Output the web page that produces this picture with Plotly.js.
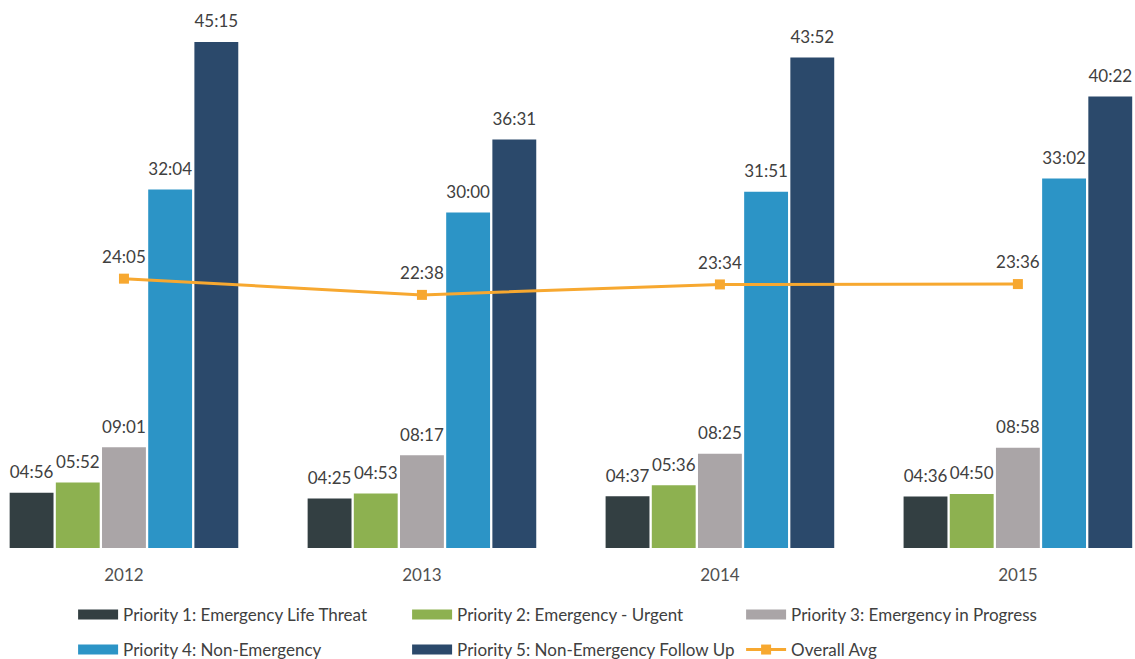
<!DOCTYPE html>
<html>
<head>
<meta charset="utf-8">
<script src="https://cdn.plot.ly/plotly-3.0.1.min.js"></script>
<style>html,body{margin:0;padding:0;background:#fff;}#chart{width:1135px;height:659px;}</style>
</head>
<body>
<div id="chart"></div>
<script>
const years = ['2012', '2013', '2014', '2015'];
const p1 = ['04:56', '04:25', '04:37', '04:36'];
const p2 = ['05:52', '04:53', '05:36', '04:50'];
const p3 = ['09:01', '08:17', '08:25', '08:58'];
const p4 = ['32:04', '30:00', '31:51', '33:02'];
const p5 = ['45:15', '36:31', '43:52', '40:22'];
const avg = ['24:05', '22:38', '23:34', '23:36'];
const seriesNames = [
  'Priority 1: Emergency Life Threat',
  'Priority 2: Emergency - Urgent',
  'Priority 3: Emergency in Progress',
  'Priority 4: Non-Emergency',
  'Priority 5: Non-Emergency Follow Up',
  'Overall Avg'
];

function toMin(s) { const [m, sec] = s.split(':').map(Number); return m + sec / 60; }

const colors = ['#333f42', '#8db150', '#aaa5a7', '#2c94c6', '#2b496b'];
const avgColor = '#f7a830';
const FONT = 'Lato, "Open Sans", sans-serif';
const TXT = '#404040';

const barSeries = [p1, p2, p3, p4, p5];
const traces = [];
// bars
barSeries.forEach((s, i) => {
  traces.push({
    type: 'bar',
    name: seriesNames[i],
    x: years,
    y: s.map(toMin),
    marker: {color: colors[i]},
    offsetgroup: 'g' + i,
    alignmentgroup: 'bars',
    showlegend: false,
    hoverinfo: 'skip'
  });
});
// value labels above bars (aligned with bar groups)
barSeries.forEach((s, i) => {
  traces.push({
    type: 'scatter',
    mode: 'text+markers',
    x: years,
    y: s.map(toMin),
    text: s,
    textposition: 'top center',
    textfont: {family: FONT, size: 17, color: TXT},
    marker: {size: 15, opacity: 0, color: '#fff'},
    offsetgroup: 'g' + i,
    alignmentgroup: 'bars',
    showlegend: false,
    cliponaxis: false,
    hoverinfo: 'skip'
  });
});
// average line
traces.push({
  type: 'scatter',
  mode: 'lines+markers',
  name: seriesNames[5],
  x: years,
  y: avg.map(toMin),
  line: {color: avgColor, width: 3},
  marker: {color: avgColor, symbol: 'square', size: 10},
  offsetgroup: 'avg',
  alignmentgroup: 'line',
  showlegend: false,
  cliponaxis: false
});
traces.push({
  type: 'scatter',
  mode: 'text+markers',
  x: years,
  y: avg.map(toMin),
  text: avg,
  textposition: 'top center',
  textfont: {family: FONT, size: 17, color: TXT},
  marker: {size: 17, opacity: 0, color: '#fff'},
  offsetgroup: 'avg',
  alignmentgroup: 'line',
  showlegend: false,
  cliponaxis: false,
  hoverinfo: 'skip'
});
// legend entries
seriesNames.slice(0, 5).forEach((n, i) => {
  traces.push({
    type: 'scatter',
    mode: 'lines',
    name: n,
    x: [null], y: [null],
    line: {color: colors[i], width: 12},
    legend: i < 3 ? 'legend' : 'legend2',
    offsetgroup: 'avg', alignmentgroup: 'line',
    hoverinfo: 'skip'
  });
});
traces.push({
  type: 'scatter',
  mode: 'lines+markers',
  name: seriesNames[5],
  x: [null], y: [null],
  line: {color: avgColor, width: 3},
  marker: {color: avgColor, symbol: 'square', size: 10},
  legend: 'legend2',
  offsetgroup: 'avg', alignmentgroup: 'line',
  hoverinfo: 'skip'
});

const legendBase = {
  orientation: 'h',
  xanchor: 'left', yanchor: 'middle',
  entrywidth: 279, entrywidthmode: 'pixels',
  font: {family: FONT, size: 17, color: TXT},
  traceorder: 'normal',
  itemwidth: 40,
  bgcolor: 'rgba(0,0,0,0)'
};

const plotH = 659 - 111;
const layout = {
  width: 1135, height: 659,
  margin: {l: 0, r: 0, t: 0, b: 111, autoexpand: false},
  paper_bgcolor: '#fff', plot_bgcolor: '#fff',
  barmode: 'group',
  bargap: 0.225,
  bargroupgap: 0.05,
  scattermode: 'group',
  scattergap: 0.225,
  font: {family: FONT, color: TXT},
  xaxis: {
    type: 'category',
    range: [-0.416, 3.393],
    showgrid: false, zeroline: false, showline: false,
    ticks: '',
    ticklabelstandoff: 15,
    tickfont: {family: FONT, size: 17, color: '#505050'}
  },
  yaxis: {range: [0, 49], visible: false},
  legend: Object.assign({}, legendBase, {x: 0.0644, y: (548 - 615) / plotH}),
  legend2: Object.assign({}, legendBase, {x: 0.0644, y: (548 - 650) / plotH})
};

Plotly.newPlot('chart', traces, layout, {displayModeBar: false, staticPlot: true});
</script>
</body>
</html>
